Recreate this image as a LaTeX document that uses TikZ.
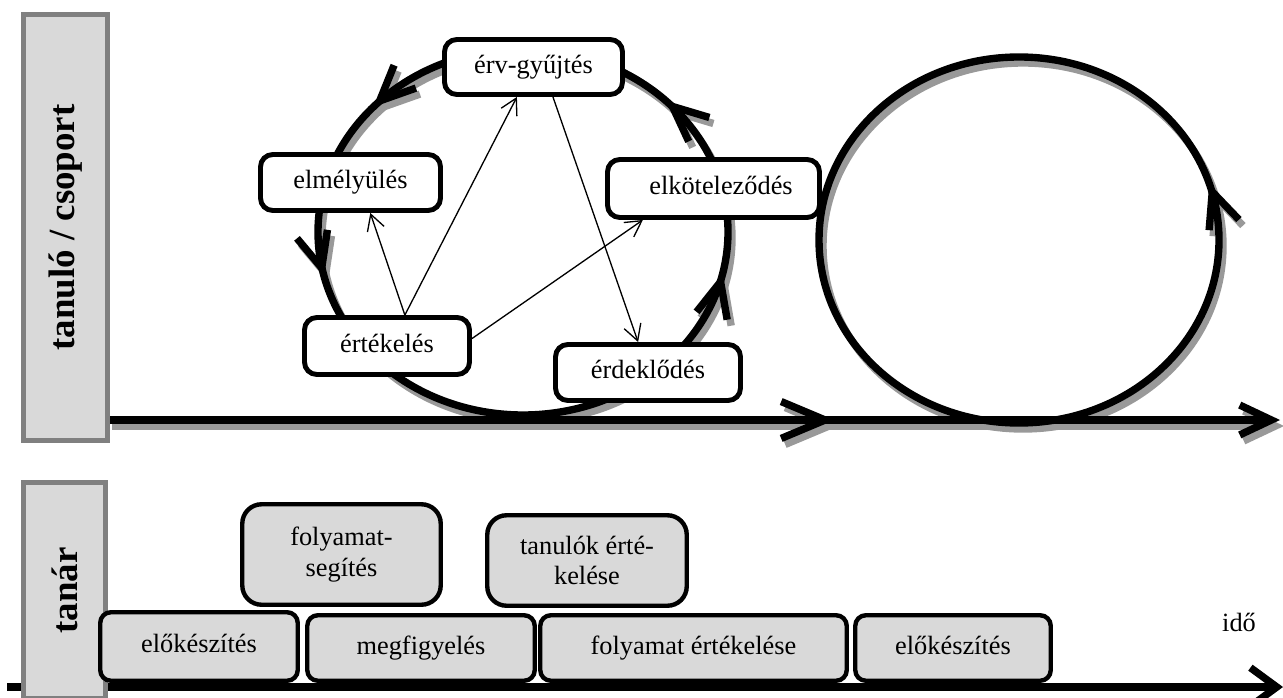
\documentclass[tikz,border=0pt]{standalone}
\usepackage{fontspec}
\setmainfont{Liberation Serif}
\usetikzlibrary{arrows.meta,decorations.markings}

\tikzset{
  korhegy/.tip={Straight Barb[length=20pt,width=18pt]},
  felhegy/.tip={Straight Barb[length=25pt,width=21pt]},
  veghegy/.tip={Straight Barb[length=18pt,width=17pt]},
  lepes/.style={draw, line width=2.8pt, rounded corners=7pt, fill=white, inner sep=2pt,
    align=center, font=\fontsize{15}{17.5}\selectfont},
  egysor/.style={text height=10.5pt, text depth=3.5pt},
  tevekenyseg/.style={lepes, line width=2.5pt, rounded corners=6pt, fill=black!15},
  szerep/.style={draw=black!50, line width=2.8pt, fill=black!15, rotate=90,
    font=\fontsize{21}{24}\selectfont\bfseries},
  nyil/.style={line width=0.75pt, -{Straight Barb[length=9pt,width=10pt]}},
  vastag/.style={line width=4.2pt},
  arnyek/.style={draw=black!40},
  korjel/.style={postaction={decorate}, decoration={markings,
    mark=at position 0.123 with {\arrow{korhegy}},
    mark=at position 0.385 with {\arrow{korhegy}},
    mark=at position 0.537 with {\arrow{korhegy}},
    mark=at position 0.966 with {\arrow{korhegy}}}},
  korjel2/.style={postaction={decorate}, decoration={markings,
    mark=at position 0.048 with {\arrow{korhegy}}}},
  tengelyjel/.style={postaction={decorate}, decoration={markings,
    mark=at position 0.62 with {\arrow{felhegy}}}}
}

\begin{document}
\begin{tikzpicture}[x=0.02cm, y=0.02cm]
  \useasboundingbox (0,0) rectangle (1283,697);

  % korok es a felso idotengely, elobb az arnyek
  \begin{scope}[shift={(4,-6)}]
    \draw[vastag, arnyek, korjel] (523,465) ellipse [x radius=205, y radius=183];
    \draw[vastag, arnyek, korjel2] (1019,457) ellipse [x radius=200, y radius=183];
    \draw[vastag, arnyek, tengelyjel, -{veghegy}] (108,277) -- (1280,277);
  \end{scope}
  \draw[vastag, korjel] (523,465) ellipse [x radius=205, y radius=183];
  \draw[vastag, korjel2] (1019,457) ellipse [x radius=200, y radius=183];
  \draw[vastag, tengelyjel, -{veghegy}] (108,277) -- (1280,277);

  % tanulo lepesei a kor menten
  \node[lepes, egysor, minimum width=3.56cm, minimum height=1.1cm] (erv) at (533.5,630) {érv-gyűjtés};
  \node[lepes, egysor, minimum width=3.6cm, minimum height=1.12cm] (elm) at (350.5,514.5) {elmélyülés};
  \node[lepes, egysor, minimum width=4.24cm, minimum height=1.16cm] (elk) at (713.5,508.5) {\hspace*{0.3cm}elköteleződés};
  \node[lepes, egysor, minimum width=3.3cm, minimum height=1.14cm] (ert) at (387,351) {értékelés};
  \node[lepes, egysor, minimum width=3.7cm, minimum height=1.12cm] (erd) at (648,324.5) {érdeklődés};

  \draw[nyil] (ert.60) -- (elm.-57);
  \draw[nyil] (ert.60) -- (erv.-119);
  \draw[nyil] (ert.5) -- (elk.-156);
  \draw[nyil] (erv.-57) -- (erd.108);

  \node[szerep, minimum width=8.52cm, minimum height=1.68cm] (csop) at (65.5,469.5) {tanuló / csoport};

  % also idotengely a tanar tevekenysegeivel
  \draw[vastag, -{Straight Barb[length=15pt,width=22pt]}] (7,10) -- (1283,10);
  \node[szerep, minimum width=4.31cm, minimum height=1.64cm] (tanar) at (64.5,106.75) {tanár};

  \node[tevekenyseg, egysor, minimum width=3.95cm, minimum height=1.37cm] (elo1) at (199,50.5) {előkészítés};
  \node[tevekenyseg, egysor, minimum width=4.55cm, minimum height=1.31cm] (megf) at (421,49) {megfigyelés};
  \node[tevekenyseg, egysor, minimum width=6.13cm, minimum height=1.31cm] (fert) at (693.5,49) {folyamat értékelése};
  \node[tevekenyseg, egysor, minimum width=3.91cm, minimum height=1.31cm] (elo2) at (953,49) {előkészítés};
  \node[tevekenyseg, rounded corners=11pt, minimum width=3.97cm, minimum height=2.01cm] (fseg) at (341.5,142.5) {folyamat-\\segítés};
  \node[tevekenyseg, rounded corners=11pt, minimum width=3.99cm, minimum height=1.81cm] (tert) at (587,136.5) {tanulók érté-\\kelése};

  \node[font=\fontsize{15}{17.5}\selectfont] (ido) at (1239,75) {idő};
\end{tikzpicture}
\end{document}
